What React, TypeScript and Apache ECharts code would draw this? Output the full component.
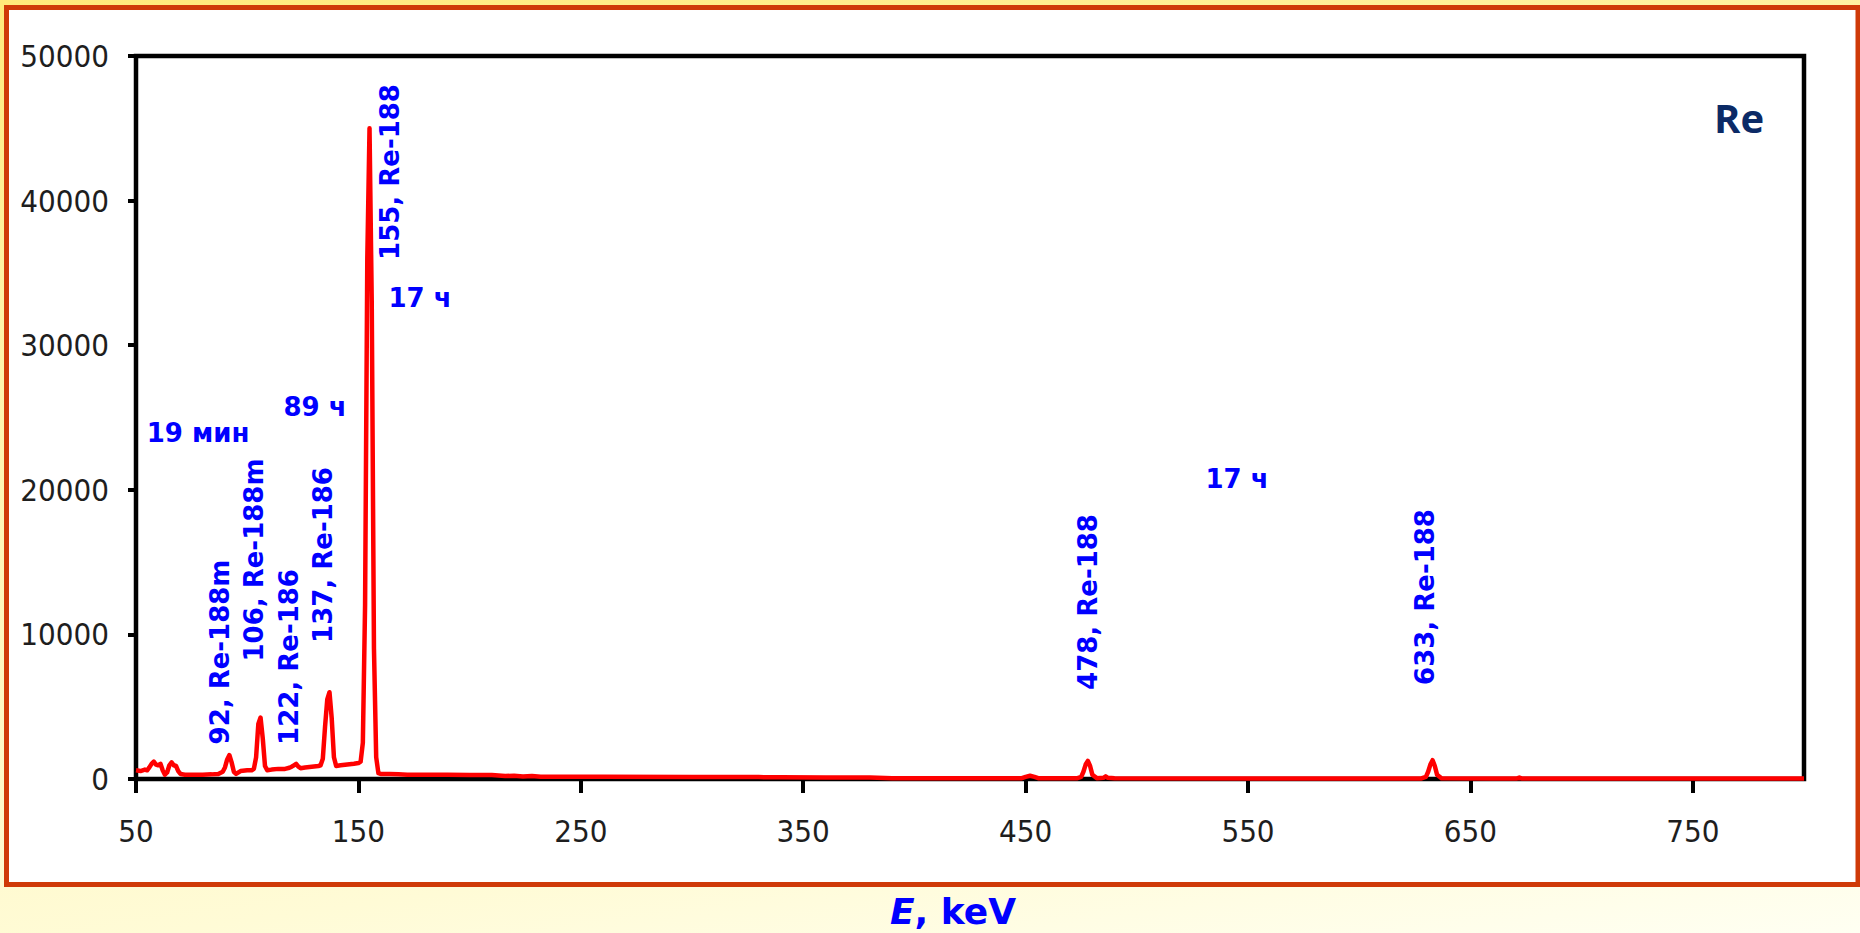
import React, { useEffect, useRef } from 'react';
import * as echarts from 'echarts';

// Gamma spectrum of irradiated rhenium: energy (keV) vs counts
const energyKeV = [
  50, 52, 54, 55, 56, 57, 58, 59, 60, 61, 62, 63, 64, 65, 66, 67, 68, 69, 70, 72,
  76, 80, 84, 87, 89, 90, 91, 92, 93, 94, 95, 97, 100, 102, 103, 104, 105, 106, 107, 108,
  109, 111, 114, 117, 119, 120, 121, 122, 123, 124, 126, 129, 132, 133, 134, 135, 136, 137, 138, 139,
  140, 142, 145, 148, 150, 151, 152, 153, 154, 155, 156, 157, 158, 159, 160, 164, 168, 172, 180, 190,
  200, 210, 216, 220, 224, 228, 232, 260, 300, 330, 340, 360, 380, 390, 420, 448, 450, 452, 454, 456,
  473, 475, 476, 477, 478, 479, 480, 482, 485, 486, 487, 490, 560, 600, 628, 630, 631, 632, 633, 634,
  635, 637, 660, 671, 672, 673, 700, 750, 800,
];
const counts = [
  600, 550, 650, 600, 800, 1050, 1200, 1000, 950, 1050, 600, 300, 450, 950, 1150, 950, 900, 550, 350, 300,
  300, 300, 320, 350, 500, 800, 1350, 1650, 1150, 500, 350, 550, 600, 600, 700, 1500, 3800, 4250, 2800, 900,
  600, 650, 700, 700, 780, 850, 950, 1050, 850, 750, 800, 850, 900, 950, 1400, 3600, 5500, 6000, 4200, 1500,
  900, 950, 1000, 1050, 1100, 1200, 2500, 12000, 36000, 45000, 33000, 9000, 1500, 400, 350, 350, 330, 300, 300, 290,
  280, 270, 200, 230, 180, 210, 150, 150, 140, 130, 120, 110, 100, 60, 50, 50, 150, 220, 150, 50,
  50, 150, 500, 1000, 1250, 900, 300, 60, 80, 180, 80, 50, 40, 40, 40, 150, 500, 1000, 1300, 900,
  300, 50, 40, 40, 100, 40, 40, 30, 30,
];

// Identified photopeaks
const peakEnergies = [92, 106, 122, 137, 155, 478, 633];
const peakNuclides = ['Re-188m', 'Re-188m', 'Re-186', 'Re-186', 'Re-188', 'Re-188', 'Re-188'];
// Half-lives of the isotopes
const halfLives = ['19 мин', '89 ч', '17 ч', '17 ч'];

const xTicks = [50, 150, 250, 350, 450, 550, 650, 750];
const yMax = 50000;
const yStep = 10000;

const elementName = 'Re';
const axisTitleSymbol = 'E';
const axisTitleUnit = ', keV';

// Placement of the annotation texts on the canvas
const peakLabelPos = [
  [220, 652],
  [254, 560],
  [289, 657],
  [323, 555],
  [390, 172],
  [1088, 602],
  [1425, 597],
];
const halfLifePos = [
  [198, 433],
  [315, 407],
  [420, 298],
  [1237, 479],
];

const tickFont = '"Liberation Sans Narrow", "DejaVu Sans Condensed", "Arial Narrow", sans-serif';
const noteFont = '"DejaVu Sans", Verdana, sans-serif';
const blue = '#0000FF';

export default function App() {
  const ref = useRef<HTMLDivElement>(null);

  useEffect(() => {
    if (!ref.current) return;
    const chart = echarts.init(ref.current, null, { renderer: 'svg' });

    const spectrum = energyKeV.map((e, i) => [e, counts[i]]);

    const peakTexts = peakEnergies.map((e, i) => ({
      type: 'text',
      x: peakLabelPos[i][0],
      y: peakLabelPos[i][1],
      rotation: Math.PI / 2,
      z: 100,
      style: {
        text: `${e}, ${peakNuclides[i]}`,
        fill: blue,
        font: `bold 26px ${noteFont}`,
        textAlign: 'center',
        textVerticalAlign: 'middle',
        align: 'center',
        verticalAlign: 'middle',
      },
    }));

    const halfLifeTexts = halfLives.map((t, i) => ({
      type: 'text',
      x: halfLifePos[i][0],
      y: halfLifePos[i][1],
      z: 100,
      style: {
        text: t,
        fill: blue,
        font: `bold 26px ${noteFont}`,
        textAlign: 'center',
        textVerticalAlign: 'middle',
        align: 'center',
        verticalAlign: 'middle',
      },
    }));

    chart.setOption({
      animation: false,
      backgroundColor: 'transparent',
      grid: {
        left: 136,
        right: 56,
        top: 56,
        bottom: 154,
        show: true,
        borderColor: '#000',
        borderWidth: 4.5,
        backgroundColor: 'transparent',
      },
      xAxis: {
        type: 'value',
        min: 50,
        max: 800,
        splitLine: { show: false },
        axisLine: { show: true, onZero: false, lineStyle: { color: '#000', width: 4 } },
        axisTick: {
          show: true,
          customValues: xTicks,
          length: 14,
          lineStyle: { color: '#000', width: 4 },
        },
        axisLabel: {
          customValues: xTicks,
          margin: 36,
          fontSize: 31,
          fontFamily: tickFont,
          color: '#1e1e1e',
        },
      },
      yAxis: {
        type: 'value',
        min: 0,
        max: yMax,
        interval: yStep,
        splitLine: { show: false },
        axisLine: { show: true, lineStyle: { color: '#000', width: 4 } },
        axisTick: { show: true, length: 8, lineStyle: { color: '#000', width: 4 } },
        axisLabel: {
          margin: 27,
          fontSize: 31,
          fontFamily: tickFont,
          color: '#1e1e1e',
          formatter: (v: number) => String(v),
        },
      },
      series: [
        {
          type: 'line',
          data: spectrum,
          symbol: 'none',
          showSymbol: false,
          color: '#FF0000',
          lineStyle: { color: '#FF0000', width: 4.5, join: 'round' },
          z: 5,
        },
      ],
      graphic: [
        {
          type: 'rect',
          z: -10,
          shape: { x: 6.5, y: 7.5, width: 1851.5, height: 877 },
          style: { fill: '#FFFFFF', stroke: '#CF3A08', lineWidth: 5 },
        },
        ...peakTexts,
        ...halfLifeTexts,
        {
          type: 'text',
          x: 1739,
          y: 117,
          z: 100,
          style: {
            text: elementName,
            fill: '#0B2A66',
            font: 'bold 40px "Open Sans", sans-serif',
            textAlign: 'center',
            textVerticalAlign: 'middle',
            align: 'center',
            verticalAlign: 'middle',
          },
        },
        {
          type: 'text',
          x: 953,
          y: 911,
          z: 100,
          style: {
            text: `{s|${axisTitleSymbol}}{u|${axisTitleUnit}}`,
            fill: blue,
            font: `bold 36px ${noteFont}`,
            textAlign: 'center',
            textVerticalAlign: 'middle',
            align: 'center',
            verticalAlign: 'middle',
            rich: {
              s: {
                fill: blue,
                fontStyle: 'italic',
                fontWeight: 'bold',
                fontSize: 36,
                fontFamily: noteFont,
              },
              u: {
                fill: blue,
                fontWeight: 'bold',
                fontSize: 36,
                fontFamily: noteFont,
              },
            },
          },
        },
      ],
    });

    return () => chart.dispose();
  }, []);

  return (
    <div
      style={{
        position: 'absolute',
        left: 0,
        top: 0,
        width: 1860,
        height: 933,
        background:
          'linear-gradient(172deg, #FFE97A 0%, #FFF3A6 25%, #FFFBD6 80%, #FFFFF2 100%)',
      }}
    >
      <div ref={ref} style={{ width: 1860, height: 933 }} />
    </div>
  );
}
